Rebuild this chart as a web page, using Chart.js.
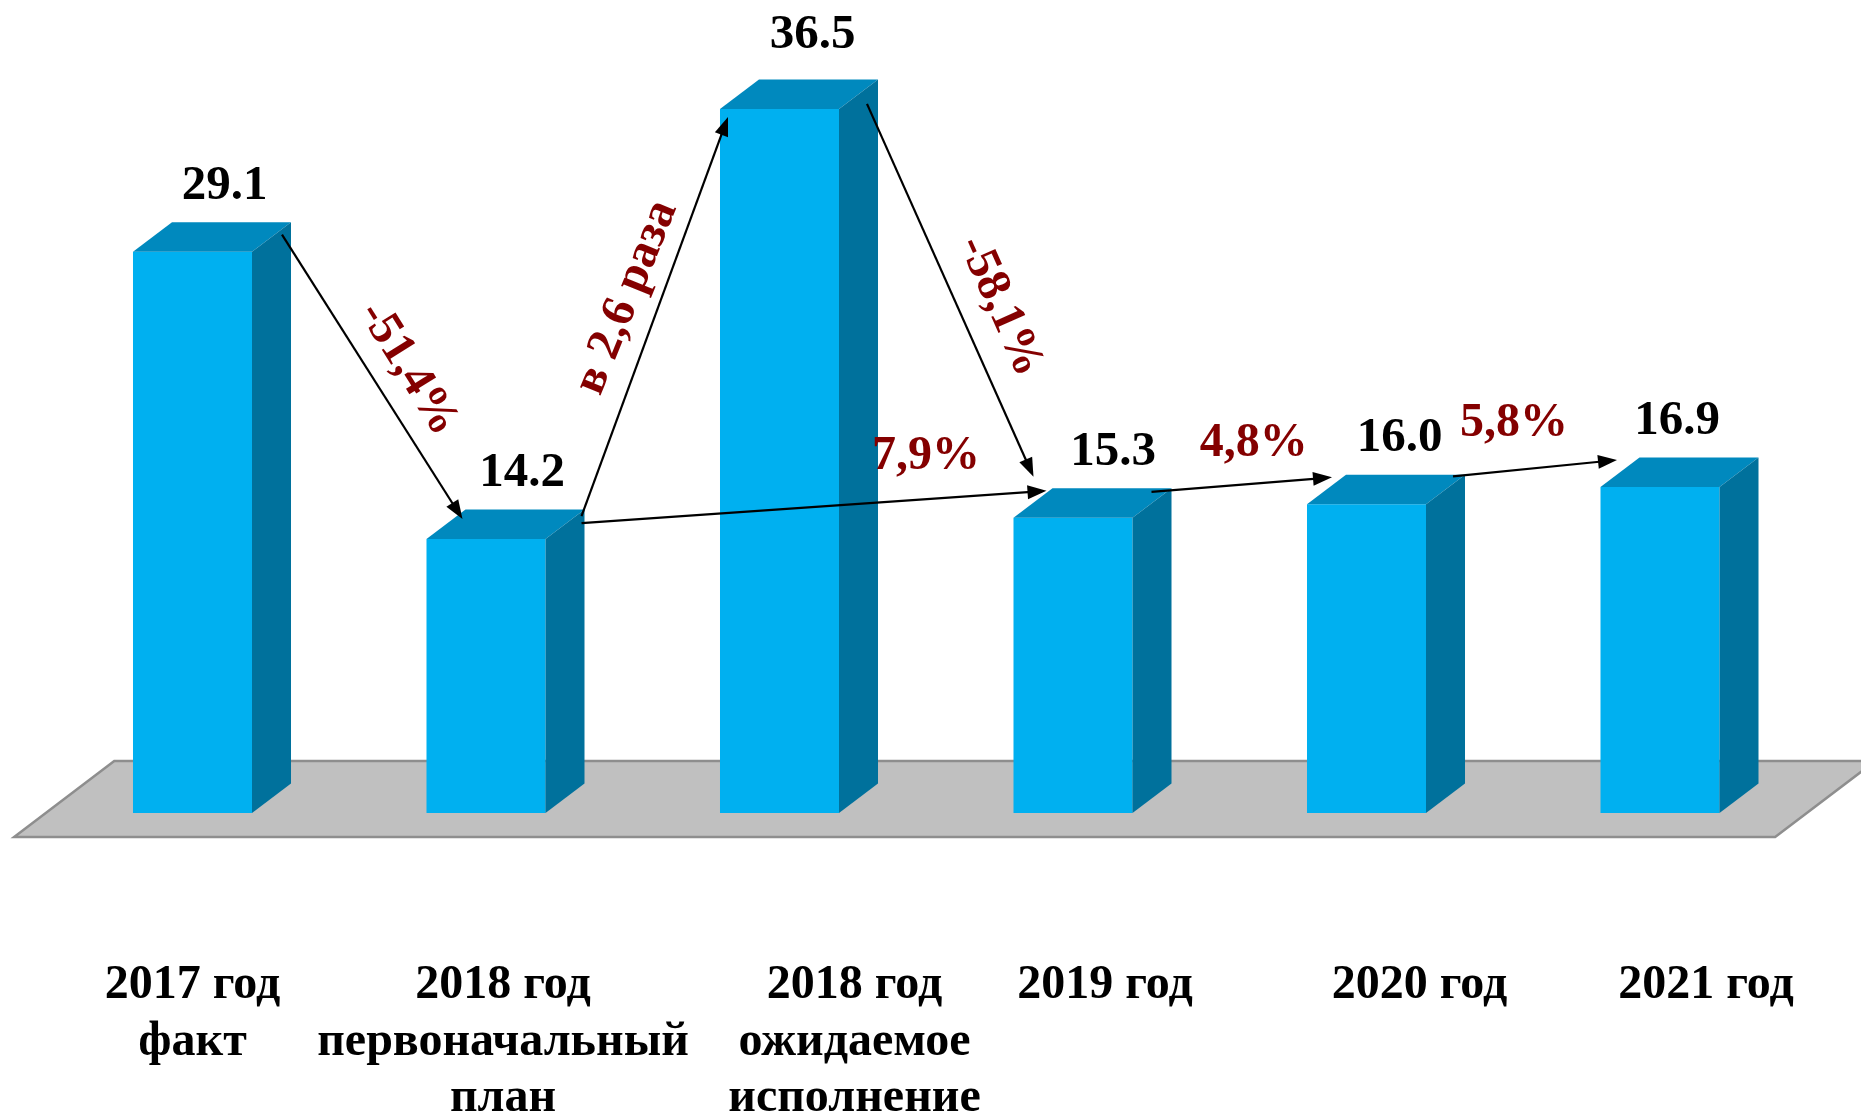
<!DOCTYPE html>
<html>
<head>
<meta charset="utf-8">
<script src="https://cdn.jsdelivr.net/npm/chart.js@4/dist/chart.umd.min.js"></script>
<style>
  html, body { margin: 0; padding: 0; background: #ffffff; }
  #wrap { width: 1861px; height: 1115px; position: relative; }
</style>
</head>
<body>
<div id="wrap"><canvas id="c" width="1861" height="1115"></canvas></div>
<script>
// ---- data ----
const categories = [
  ['2017 год', 'факт'],
  ['2018 год', 'первоначальный', 'план'],
  ['2018 год', 'ожидаемое', 'исполнение'],
  ['2019 год'],
  ['2020 год'],
  ['2021 год']
];
const values = [29.1, 14.2, 36.5, 15.3, 16.0, 16.9];
const valueLabels = ['29.1', '14.2', '36.5', '15.3', '16.0', '16.9'];
const changeLabels = ['-51,4%', 'в 2,6 раза', '-58,1%', '7,9%', '4,8%', '5,8%'];
const changeFrom = [0, 1, 2, 1, 3, 4];
const changeTo = [1, 2, 3, 3, 4, 5];

// ---- layout / style (not data) ----
const FONT = '"Liberation Serif", "Times New Roman", serif';
const FRONT = '#00B0F0', TOP = '#0089BE', SIDE = '#00719C';
const DEPTH_X = 39, DEPTH_Y = -29.5;
const valueNudge = [[32, 0], [36, 0], [33, -8], [40, 0], [33, 0], [17, 0]];
const labelNudge = [0, 17, 75, 32, 53, 46];
// arrow anchors: offsets from the bar's front-left/top corner
const arrowStart = [[149, -17], [155, -23], [147, -5], [155, -16], [138, -26], [146, -28]];
const arrowEnd = [[36, -20], [8, 8], [20, -41], [33, -27], [25, -27], [16.5, -27]];
const textOffset = [[36, -8], [-28, -19], [50, 16], [112, -50], [12, -41], [-21, -45]];
const textAngle = [58, -68, 66, 0, 0, 0];

const threeD = {
  id: 'threeD',
  beforeDatasetsDraw(chart) {
    const ctx = chart.ctx, a = chart.chartArea;
    const base = chart.scales.y.getPixelForValue(0);
    const fdx = -31.6, fdy = 24, bdx = 68.5, bdy = -52;
    ctx.save();
    ctx.beginPath();
    ctx.moveTo(a.left + fdx, base + fdy);
    ctx.lineTo(a.right + fdx, base + fdy);
    ctx.lineTo(a.right + bdx, base + bdy);
    ctx.lineTo(a.left + bdx, base + bdy);
    ctx.closePath();
    ctx.fillStyle = '#C0C0C0';
    ctx.fill();
    ctx.strokeStyle = '#8E8E8E';
    ctx.lineWidth = 2.5;
    ctx.stroke();
    ctx.restore();
  },
  afterDatasetsDraw(chart) {
    const ctx = chart.ctx;
    const meta = chart.getDatasetMeta(0);
    ctx.save();
    meta.data.forEach((bar) => {
      const l = bar.x - bar.width / 2, r = bar.x + bar.width / 2;
      const t = bar.y, b = bar.base;
      ctx.beginPath();
      ctx.moveTo(l, t); ctx.lineTo(r, t);
      ctx.lineTo(r + DEPTH_X, t + DEPTH_Y); ctx.lineTo(l + DEPTH_X, t + DEPTH_Y);
      ctx.closePath();
      ctx.fillStyle = TOP; ctx.fill();
      ctx.beginPath();
      ctx.moveTo(r, t); ctx.lineTo(r + DEPTH_X, t + DEPTH_Y);
      ctx.lineTo(r + DEPTH_X, b + DEPTH_Y); ctx.lineTo(r, b);
      ctx.closePath();
      ctx.fillStyle = SIDE; ctx.fill();
    });
    ctx.restore();
  },
  afterDraw(chart) {
    const ctx = chart.ctx;
    const meta = chart.getDatasetMeta(0);
    const bars = meta.data;
    const xs = chart.scales.x;
    ctx.save();
    // value labels
    ctx.fillStyle = '#000';
    ctx.font = 'bold 49px ' + FONT;
    ctx.textAlign = 'center';
    ctx.textBaseline = 'alphabetic';
    bars.forEach((bar, i) => {
      ctx.fillText(valueLabels[i], bar.x + valueNudge[i][0], bar.y - 53 + valueNudge[i][1]);
    });
    // category labels
    ctx.font = 'bold 48px ' + FONT;
    categories.forEach((lines, i) => {
      const x = xs.getPixelForValue(i) + labelNudge[i];
      lines.forEach((ln, k) => ctx.fillText(ln, x, 998 + k * 56.5));
    });
    // arrows
    const corner = (i) => ({ x: bars[i].x - bars[i].width / 2, y: bars[i].y });
    changeLabels.forEach((txt, j) => {
      const s0 = corner(changeFrom[j]), e0 = corner(changeTo[j]);
      const sx = s0.x + arrowStart[j][0], sy = s0.y + arrowStart[j][1];
      const ex = e0.x + arrowEnd[j][0], ey = e0.y + arrowEnd[j][1];
      const ang = Math.atan2(ey - sy, ex - sx);
      const hl = 19, hw = 7;
      ctx.strokeStyle = '#000';
      ctx.lineWidth = 2.2;
      ctx.beginPath();
      ctx.moveTo(sx, sy);
      ctx.lineTo(ex - Math.cos(ang) * hl * 0.8, ey - Math.sin(ang) * hl * 0.8);
      ctx.stroke();
      ctx.fillStyle = '#000';
      ctx.beginPath();
      ctx.moveTo(ex, ey);
      ctx.lineTo(ex - Math.cos(ang) * hl - Math.sin(ang) * hw, ey - Math.sin(ang) * hl + Math.cos(ang) * hw);
      ctx.lineTo(ex - Math.cos(ang) * hl + Math.sin(ang) * hw, ey - Math.sin(ang) * hl - Math.cos(ang) * hw);
      ctx.closePath();
      ctx.fill();
      // change text
      const mx = (sx + ex) / 2 + textOffset[j][0], my = (sy + ey) / 2 + textOffset[j][1];
      ctx.save();
      ctx.translate(mx, my);
      ctx.rotate(textAngle[j] * Math.PI / 180);
      ctx.fillStyle = '#840000';
      ctx.font = 'bold 48px ' + FONT;
      ctx.textAlign = 'center';
      ctx.textBaseline = 'middle';
      ctx.fillText(txt, 0, 0);
      ctx.restore();
    });
    ctx.restore();
  }
};

new Chart(document.getElementById('c'), {
  type: 'bar',
  data: {
    labels: categories,
    datasets: [{
      data: values,
      backgroundColor: FRONT,
      borderWidth: 0,
      barPercentage: 0.4055,
      categoryPercentage: 1
    }]
  },
  options: {
    responsive: false,
    animation: false,
    events: [],
    layout: { padding: { left: 45.75, right: 54.25, top: 41.4, bottom: 302 } },
    plugins: { legend: { display: false }, tooltip: { enabled: false } },
    scales: {
      x: { display: false },
      y: { display: false, min: 0, max: 40 }
    }
  },
  plugins: [threeD]
});
</script>
</body>
</html>
